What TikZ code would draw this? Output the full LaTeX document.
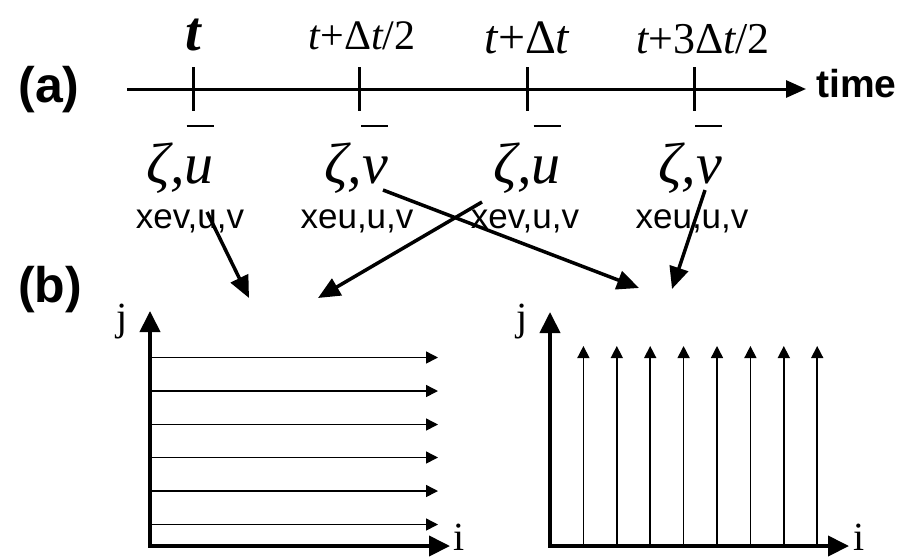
\documentclass[tikz,border=0pt]{standalone}
\usepackage{fontspec}
\setmainfont{Liberation Serif}
\newfontfamily\arialf{Liberation Sans}
\usetikzlibrary{arrows.meta}
\newcommand\fsz[1]{\fontsize{#1}{#1}\selectfont}
\begin{document}
\begin{tikzpicture}[x=1pt,y=-1pt,
  every node/.style={inner sep=0pt},
  toplbl/.style={font=\fsz{42}, anchor=base},
  zlbl/.style={font=\fsz{58}\itshape, anchor=base},
  vlbl/.style={font=\arialf\fsz{35}, anchor=base},
  panel/.style={font=\arialf\bfseries\fsz{50}},
  axisline/.style={line width=3pt},
  ticks/.style={line width=3pt},
  barline/.style={line width=2.5pt},
  bigarrow/.style={line width=3.5pt, -{Triangle[length=22pt,width=19pt]}},
  gaxis/.style={line width=4pt, -{Triangle[length=21pt,width=20pt]}},
  thin/.style={line width=1.5pt, -{Triangle[length=12pt,width=12pt]}},
  ijlbl/.style={font=\fsz{40}}
]
\useasboundingbox (0,0) rectangle (901,558);

% (a) time axis
\node[panel] (pa) at (49,90) {(a)};
\coordinate (ax0) at (127,89);
\coordinate (ax1) at (806,89);
\draw[axisline, -{Triangle[length=20pt,width=17pt]}] (ax0) -- (ax1);
\node[font=\arialf\bfseries\fsz{39}, anchor=base west] (time) at (816,97) {time};
\foreach \x in {193,359,527,694}{
  \draw[ticks] (\x,67) -- (\x,111);
}

% labels above
\node[toplbl, font=\fsz{56}\bfseries\itshape] (l1) at (193,50) {t};
\node[toplbl, font=\fsz{42}] (l2) at (362,49) {\itshape t\upshape+Δ\itshape t\upshape/2};
\node[toplbl, font=\fsz{48}] (l3) at (527,53) {\itshape t\upshape+Δ\itshape t};
\node[toplbl, font=\fsz{44}] (l4) at (703,53) {\itshape t\upshape+3Δ\itshape t\upshape/2};

% zeta labels
\coordinate (bary) at (0,126);
\node[zlbl] (z1) at (180,183) {ζ,u};
\node[zlbl] (z2) at (356,183) {ζ,v};
\node[zlbl] (z3) at (527,183) {ζ,u};
\node[zlbl] (z4) at (690,183) {ζ,v};
\foreach \n in {z1,z2,z3,z4}{
  \draw[barline] ([xshift=-27pt]\n.east |- bary) -- (\n.east |- bary);
}

% variable labels
\node[vlbl] (v1) at (190,228) {xev,u,v};
\node[vlbl] (v2) at (357,228) {xeu,u,v};
\node[vlbl] (v3) at (525,228) {xev,u,v};
\node[vlbl] (v4) at (692,228) {xeu,u,v};

% (b)
\node[panel] (pb) at (50,290) {(b)};

% arrows between
\coordinate (s1) at (207,212);
\coordinate (e1) at (249,298);
\coordinate (s2) at (482,202);
\coordinate (e2) at (318,298);
\coordinate (s3) at (383,190);
\coordinate (e3) at (639,288);
\coordinate (s4) at (705,190);
\coordinate (e4) at (672,289);
\draw[bigarrow] (s1) -- (e1);
\draw[bigarrow] (s2) -- (e2);
\draw[bigarrow] (s3) -- (e3);
\draw[bigarrow] (s4) -- (e4);

% left grid
\coordinate (lo) at (150,546);
\coordinate (lx) at (450,546);
\coordinate (ly) at (150,311);
\foreach \y in {357.5,391,424.5,457.5,491,524.5}{
  \draw[thin] (150,\y) -- (438,\y);
}
\draw[gaxis] ([yshift=2pt]lo) -- (ly);
\draw[gaxis] ([xshift=-2pt]lo) -- (lx);
\node[ijlbl] (lj) at (122,322) {j};
\node[ijlbl, anchor=base] (li) at (459,550) {i};

% right grid
\coordinate (ro) at (550,546);
\coordinate (rx) at (849,546);
\coordinate (ry) at (550,312);
\foreach \k in {0,...,7}{
  \draw[thin] (583.4+\k*33.4,546) -- (583.4+\k*33.4,346);
}
\draw[gaxis] ([yshift=2pt]ro) -- (ry);
\draw[gaxis] ([xshift=-2pt]ro) -- (rx);
\node[ijlbl] (rj) at (522,322) {j};
\node[ijlbl, anchor=base] (ri) at (859,550) {i};
\end{tikzpicture}
\end{document}
